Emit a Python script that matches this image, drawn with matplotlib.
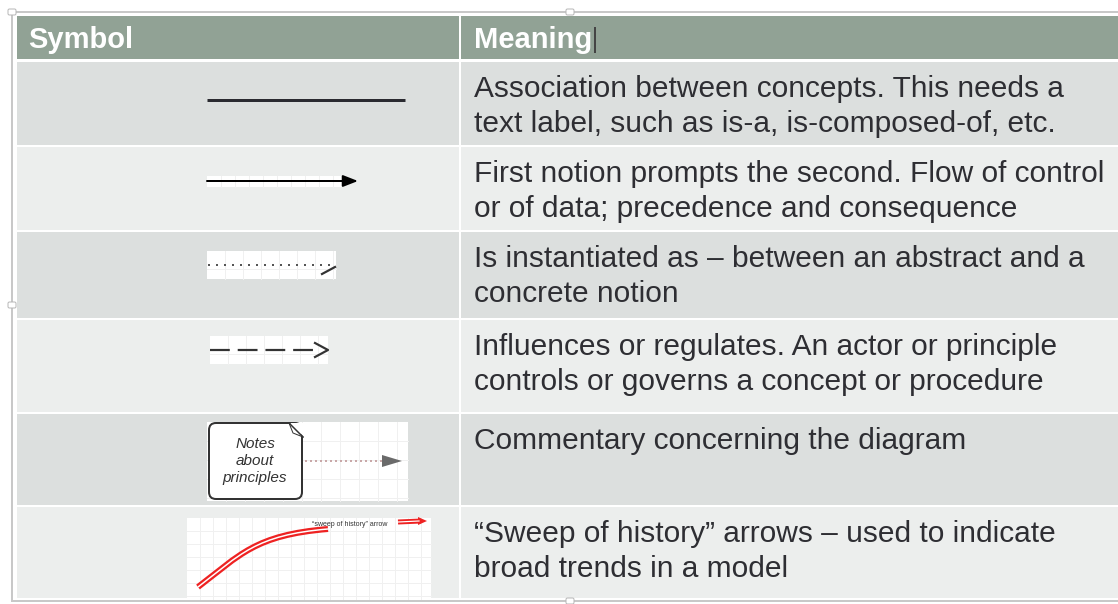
import numpy as np
import matplotlib.pyplot as plt
from matplotlib.patches import Rectangle, FancyBboxPatch, Polygon
from matplotlib.path import Path
from matplotlib.patches import PathPatch

plt.rcParams['font.family'] = ['Liberation Sans', 'DejaVu Sans']

headers = ["Symbol", "Meaning"]
symbols = ["association", "flow", "instance", "influence", "note", "sweep"]
meanings = [
    "Association between concepts. This needs a\ntext label, such as is-a, is-composed-of, etc.",
    "First notion prompts the second. Flow of control\nor of data; precedence and consequence",
    "Is instantiated as \u2013 between an abstract and a\nconcrete notion",
    "Influences or regulates. An actor or principle\ncontrols or governs a concept or procedure",
    "Commentary concerning the diagram",
    "\u201cSweep of history\u201d arrows \u2013 used to indicate\nbroad trends in a model",
]

# layout in pixels
W, H = 1118, 604
left, split = 17, 460
header_top, header_bot = 16, 59
row_edges = [61, 146, 231, 319, 413, 506, 599]
header_col = "#91a295"
row_cols = ["#dcdfde", "#eceeed"]
text_col = "#2e2e33"

fig = plt.figure(figsize=(W / 100, H / 100), dpi=100)
ax = fig.add_axes([0, 0, 1, 1])
ax.set_xlim(0, W)
ax.set_ylim(H, 0)
ax.axis("off")


def px(v):
    return v * 0.72


def grid_panel(x0, y0, x1, y1, step=14):
    ax.add_patch(Rectangle((x0, y0), x1 - x0, y1 - y0, fc="white", ec="none", zorder=2))
    for gx in np.arange(x0 + step, x1, step):
        ax.plot([gx, gx], [y0, y1], color="#f0f0f0", lw=px(1), zorder=2.1)
    for gy in np.arange(y0 + step, y1, step):
        ax.plot([x0, x1], [gy, gy], color="#f0f0f0", lw=px(1), zorder=2.1)


# header
ax.add_patch(Rectangle((left, header_top), W - left, header_bot - header_top, fc=header_col, ec="none"))
ax.plot([split, split], [header_top, row_edges[-1]], color="white", lw=px(2), zorder=3)
ax.text(28, 40, headers[0], color="white", fontsize=21, fontweight="bold", va="center", ha="left", zorder=4)
ax.text(474, 40, headers[1], color="white", fontsize=21, fontweight="bold", va="center", ha="left", zorder=4)
ax.plot([595, 595], [28, 52], color="#444444", lw=px(2), zorder=4)

# rows
for i, (sym, meaning) in enumerate(zip(symbols, meanings)):
    y0, y1 = row_edges[i], row_edges[i + 1]
    ax.add_patch(Rectangle((left, y0 + 1), W - left, y1 - y0 - 2, fc=row_cols[i % 2], ec="none", zorder=1))
    ax.text(474, y0 + 14, meaning, color=text_col, fontsize=21.5, va="top", ha="left",
            linespacing=1.34, zorder=4)

# symbol 1: plain association line
ax.plot([207, 405], [100, 100], color="#2a2a30", lw=px(3), solid_capstyle="butt", zorder=3)

# symbol 2: flow arrow
grid_panel(207, 176, 342, 187, step=14)
ax.annotate("", xy=(358, 181), xytext=(207, 181),
            arrowprops=dict(arrowstyle="-|>,head_length=0.9,head_width=0.35", color="black",
                            lw=px(2), shrinkA=0, shrinkB=0), zorder=4)

# symbol 3: instantiation (dotted with slash)
grid_panel(207, 251, 336, 279, step=18)
ax.plot([208, 330], [265, 265], color="#555555", lw=px(2), ls=(0, (1, 3)), zorder=3)
ax.plot([322, 335], [274, 267], color="#333333", lw=px(2.2), zorder=3)

# symbol 4: influence (dashed with open arrowhead)
grid_panel(210, 336, 328, 364, step=18)
ax.plot([210, 318], [350, 350], color="#333333", lw=px(2.2), ls=(0, (9, 3.6)), zorder=3)
ax.plot([315, 328, 315], [343, 350, 357], color="#333333", lw=px(2.2), zorder=3)

# symbol 5: note with dotted arrow
grid_panel(207, 422, 408, 501, step=19)
note = FancyBboxPatch((209, 423), 93, 76, boxstyle="round,pad=0,rounding_size=7",
                      fc="white", ec="#333333", lw=px(2), zorder=3)
ax.add_patch(note)
ax.add_patch(Polygon([[290, 423], [303, 436], [303, 423]], closed=True, fc="white", ec="none", zorder=3.5))
ax.plot([289, 303], [423, 437], color="#333333", lw=px(1.5), zorder=3.6)
ax.plot([289, 293, 303], [423, 433, 437], color="#333333", lw=px(1), zorder=3.6)
ax.text(255, 461, "Notes\nabout\nprinciples", style="italic", fontsize=11, color="#333333",
        ha="center", va="center", linespacing=1.25, zorder=4)
ax.plot([305, 385], [461, 461], color="#c9a8a8", lw=px(2), ls=(0, (1, 1.5)), zorder=3)
ax.add_patch(Polygon([[382, 455], [382, 467], [402, 461]], closed=True, fc="#6a6a6a", ec="none", zorder=3))

# symbol 6: sweep of history arrow
grid_panel(187, 518, 431, 599, step=13)
verts = [(198, 587), (240, 555), (255, 535), (328, 529)]
codes = [Path.MOVETO, Path.CURVE4, Path.CURVE4, Path.CURVE4]
sweep = Path(verts, codes)
ax.add_patch(PathPatch(sweep, fc="none", ec="#ee2222", lw=px(6), capstyle="butt", zorder=3))
ax.add_patch(PathPatch(sweep, fc="none", ec="white", lw=px(1.5), capstyle="butt", zorder=3.1))
ax.text(350, 525, "\u201csweep of history\u201d arrow", fontsize=5, color="#333333",
        ha="center", va="center", zorder=4)
ax.plot([398, 421], [522, 521], color="#ee2222", lw=px(5), solid_capstyle="butt", zorder=3)
ax.plot([398, 419], [522, 521], color="white", lw=px(1.2), zorder=3.1)
ax.add_patch(Polygon([[418, 517], [418, 525], [427, 521]], closed=True, fc="#ee2222", ec="none", zorder=3))

# selection frame and handles
ax.plot([12, W, W], [12, 12, 12], color="#c8c8c8", lw=px(2), zorder=5)
ax.plot([12, 12], [12, 601], color="#c8c8c8", lw=px(2), zorder=5)
ax.plot([12, W], [601, 601], color="#c8c8c8", lw=px(2), zorder=5)
for hx, hy in [(12, 12), (570, 12), (12, 305), (570, 601)]:
    ax.add_patch(FancyBboxPatch((hx - 4, hy - 3), 8, 6, boxstyle="round,pad=0,rounding_size=1.5",
                                fc="white", ec="#b8b8b8", lw=px(1), zorder=6))

fig.savefig("out.png", dpi=100, facecolor="white")
